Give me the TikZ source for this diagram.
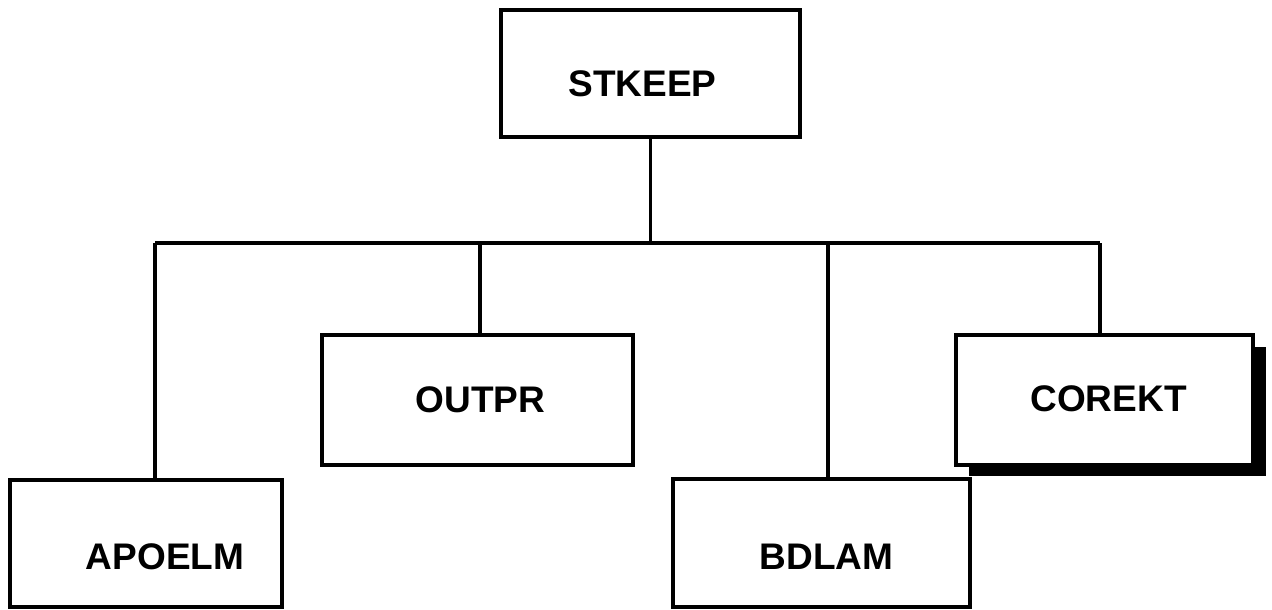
\documentclass[tikz,border=0pt]{standalone}
\usepackage{fontspec}
\setmainfont{Liberation Sans}
\begin{document}
\begin{tikzpicture}[x=1pt,y=-1pt,
  box/.style={draw=black, line width=3.4pt, fill=white, rectangle, inner sep=0pt},
  lbl/.style={font=\fontsize{37}{40}\selectfont\bfseries},
  conn/.style={line width=3.2pt}]
\useasboundingbox (0,0) rectangle (1272,610);
% shadow behind COREKT
\fill[black] (969,347) rectangle (1266,476);
\node[box, minimum width=299pt, minimum height=127pt,
  label={[lbl, shift={(-8pt,-10pt)}]center:STKEEP}] (stkeep) at (650.5,73.5) {};
\node[box, minimum width=311pt, minimum height=130pt,
  label={[lbl, shift={(3pt,0pt)}]center:OUTPR}] (outpr) at (477.5,400) {};
\node[box, minimum width=297pt, minimum height=130pt,
  label={[lbl, shift={(4pt,1pt)}]center:COREKT}] (corekt) at (1104.5,400) {};
\node[box, minimum width=272pt, minimum height=127pt,
  label={[lbl, shift={(19pt,-13pt)}]center:APOELM}] (apoelm) at (146,543.5) {};
\node[box, minimum width=297pt, minimum height=128pt,
  label={[lbl, shift={(5pt,-14pt)}]center:BDLAM}] (bdlam) at (821.5,543) {};
% bus and drops
\coordinate (d1) at (155,243);
\coordinate (d2) at (480,243);
\coordinate (d3) at (828,243);
\coordinate (d4) at (1100,243);
\draw[conn] (d1) -- (d4);
\draw[conn] (stkeep.south) -- (stkeep.south |- d1);
\draw[conn] (d1) -- (d1 |- apoelm.north);
\draw[conn] (d2) -- (d2 |- outpr.north);
\draw[conn] (d3) -- (d3 |- bdlam.north);
\draw[conn] (d4) -- (d4 |- corekt.north);
\end{tikzpicture}
\end{document}
